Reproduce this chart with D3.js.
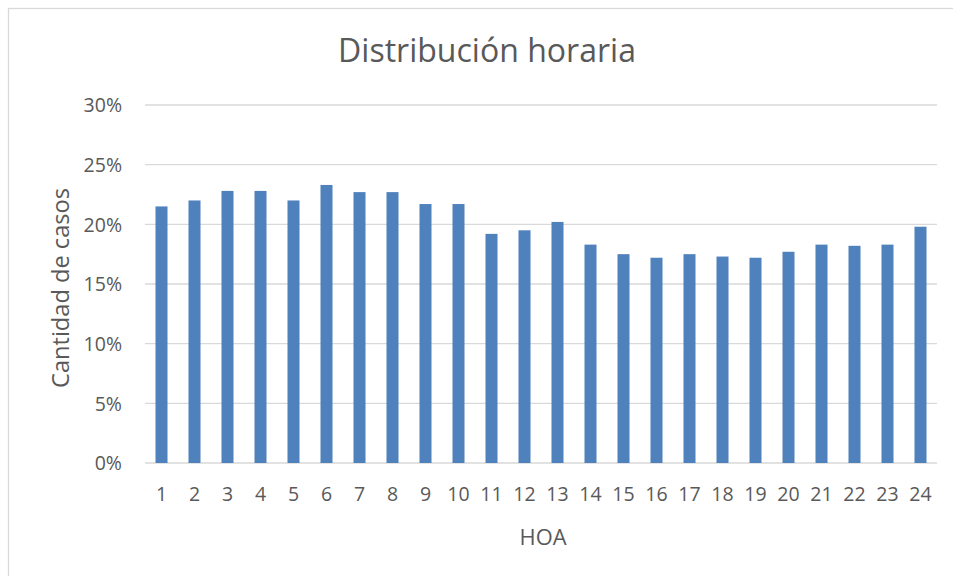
<!DOCTYPE html>
<html>
<head>
<meta charset="utf-8">
<script src="https://cdn.jsdelivr.net/npm/d3@7"></script>
<style>
  html, body { margin: 0; padding: 0; background: #fff; }
  svg { display: block; font-family: "Open Sans", "Noto Sans", sans-serif; }
</style>
</head>
<body>
<svg id="chart" width="953" height="576"></svg>
<script>
// ---- data ----
const hours = ["1","2","3","4","5","6","7","8","9","10","11","12","13","14","15","16","17","18","19","20","21","22","23","24"];
const shares = [21.5, 22.0, 22.8, 22.8, 22.0, 23.3, 22.7, 22.7, 21.7, 21.7, 19.2, 19.5, 20.2, 18.3, 17.5, 17.2, 17.5, 17.3, 17.2, 17.7, 18.3, 18.2, 18.3, 19.8];
const yTicks = [0, 5, 10, 15, 20, 25, 30];
const title = "Distribución horaria";
const xTitle = "HOA";
const yTitle = "Cantidad de casos";

// ---- layout ----
const svg = d3.select("#chart");
const W = 953, H = 576;
const plot = { left: 145, right: 937, top: 105, bottom: 463 };
const textColor = "#595959";
const gridColor = "#d9d9d9";
const barColor = "#4f81bd";

// outer chart border
svg.append("rect")
  .attr("x", 8.5).attr("y", 8.5)
  .attr("width", W + 10).attr("height", H + 10)
  .attr("fill", "#fff").attr("stroke", gridColor).attr("stroke-width", 1.3);

const x = d3.scaleBand().domain(hours)
  .range([plot.left, plot.right])
  .paddingInner(0.636).paddingOuter(0.318);
const y = d3.scaleLinear().domain([0, 30]).range([plot.bottom, plot.top]);

function fitWidth(sel, target) {
  const node = sel.node();
  const fs = parseFloat(sel.attr("font-size"));
  const w = node.getComputedTextLength();
  if (w > 0) sel.attr("font-size", (fs * target / w).toFixed(2));
  return sel;
}

// gridlines
svg.append("g").selectAll("line").data(yTicks).join("line")
  .attr("x1", plot.left).attr("x2", plot.right)
  .attr("y1", d => y(d)).attr("y2", d => y(d))
  .attr("stroke", gridColor).attr("stroke-width", 1.3);

// y axis labels (via d3 axis, no domain/ticks)
const yAxis = svg.append("g")
  .attr("transform", `translate(${plot.left},0)`)
  .call(d3.axisLeft(y).tickValues(yTicks).tickFormat(d => d + "%").tickSize(0).tickPadding(23));
yAxis.select(".domain").remove();
yAxis.selectAll("text")
  .attr("fill", textColor).attr("font-size", 19.5)
  .attr("font-family", "'Open Sans', sans-serif")
  .attr("dy", "0.35em");

// bars
svg.append("g").selectAll("rect").data(hours).join("rect")
  .attr("x", (d) => x(d))
  .attr("width", x.bandwidth())
  .attr("y", (d, i) => y(shares[i]))
  .attr("height", (d, i) => y(0) - y(shares[i]))
  .attr("fill", barColor);

// x axis labels
const xAxis = svg.append("g")
  .attr("transform", `translate(0,${plot.bottom})`)
  .call(d3.axisBottom(x).tickSize(0).tickPadding(24));
xAxis.select(".domain").remove();
xAxis.selectAll("text")
  .attr("fill", textColor).attr("font-size", 19.5)
  .attr("font-family", "'Open Sans', sans-serif")
  .attr("dy", "0.71em");

// title
const t = svg.append("text")
  .attr("x", 487).attr("y", 62)
  .attr("text-anchor", "middle")
  .attr("fill", textColor)
  .attr("font-size", 30)
  .text(title);
fitWidth(t, 298);

// x title
const xt = svg.append("text")
  .attr("x", 543).attr("y", 545)
  .attr("text-anchor", "middle")
  .attr("fill", textColor)
  .attr("font-size", 20)
  .text(xTitle);
fitWidth(xt, 47);

// y title
const yt = svg.append("text")
  .attr("transform", "translate(69,288) rotate(-90)")
  .attr("text-anchor", "middle")
  .attr("fill", textColor)
  .attr("font-size", 20)
  .text(yTitle);
fitWidth(yt, 200);
</script>
</body>
</html>
